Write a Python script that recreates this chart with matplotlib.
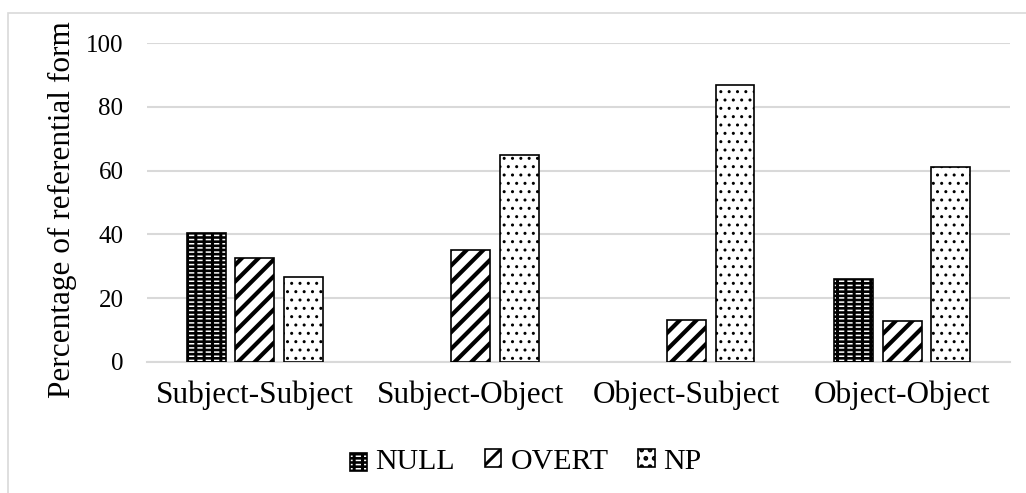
import matplotlib
matplotlib.use("Agg")
import matplotlib.pyplot as plt
import numpy as np
from matplotlib.patches import Rectangle

categories = ["Subject-Subject", "Subject-Object", "Object-Subject", "Object-Object"]
null_vals = [40.5, 0, 0, 26]
overt_vals = [32.7, 35.2, 13.3, 13]
np_vals = [26.8, 64.8, 86.7, 61]
series_names = ["NULL", "OVERT", "NP"]
yticks = [0, 20, 40, 60, 80, 100]

plt.rcParams['font.family'] = ['Liberation Serif', 'DejaVu Serif']

fig = plt.figure(figsize=(10.26, 4.93), dpi=100)
ax = fig.add_axes([147/1026, 1-362/493, (1010-147)/1026, (362-43)/493])

x = np.arange(len(categories))
w = 0.18
off = 0.225
lw = 1.2


def lws(vals):
    return [lw if v > 0 else 0 for v in vals]


# NULL: black with white dashes
plt.rcParams['hatch.linewidth'] = 1.1
ax.bar(x - off, null_vals, w, color='black', edgecolor='white', hatch='----', linewidth=0, zorder=3)
plt.rcParams['hatch.linewidth'] = 2.2
ax.bar(x - off, null_vals, w, facecolor='none', edgecolor='black', hatch='||', linewidth=lws(null_vals), zorder=4)
# OVERT: diagonal stripes
plt.rcParams['hatch.linewidth'] = 3.0
b2 = ax.bar(x, overt_vals, w, color='white', edgecolor='black', hatch='//', linewidth=lws(overt_vals), zorder=3)
# NP: dots
plt.rcParams['hatch.linewidth'] = 1.0
b3 = ax.bar(x + off, np_vals, w, color='white', edgecolor='black', hatch='..', linewidth=lws(np_vals), zorder=3)

ax.set_xlim(-0.5, 3.5)
ax.set_ylim(0, 100)
ax.set_yticks(yticks)
ax.set_xticks(x)
ax.set_xticklabels(categories, fontsize=22.5)
ax.tick_params(axis='y', labelsize=18, length=0, pad=17)
ax.tick_params(axis='x', length=0, pad=13)
ax.grid(axis='y', color='#d9d9d9', linewidth=1.5, zorder=0)
ax.set_axisbelow(True)
for s in ['top', 'right', 'left']:
    ax.spines[s].set_visible(False)
ax.spines['bottom'].set_color('#d9d9d9')
ax.spines['bottom'].set_linewidth(1.5)

fig.text(62/1026, 1-210/493, "Percentage of referential form", rotation=90,
         fontsize=22.5, ha='center', va='center')


class NullKey:
    pass


class NullHandler:
    def legend_artist(self, legend, orig_handle, fontsize, handlebox):
        x0, y0 = handlebox.xdescent, handlebox.ydescent
        wd, ht = handlebox.width, handlebox.height
        plt.rcParams['hatch.linewidth'] = 1.1
        r1 = Rectangle((x0, y0), wd, ht, facecolor='black', edgecolor='white', hatch='----',
                       linewidth=0, transform=handlebox.get_transform())
        plt.rcParams['hatch.linewidth'] = 2.2
        r2 = Rectangle((x0, y0), wd, ht, facecolor='none', edgecolor='black', hatch='||',
                       linewidth=lw, transform=handlebox.get_transform())
        handlebox.add_artist(r1)
        handlebox.add_artist(r2)
        return r1


plt.rcParams['hatch.linewidth'] = 3.0
leg = fig.legend([NullKey(), b2[0], b3[0]], series_names, loc='center',
                 bbox_to_anchor=(526/1026, 1-462/493),
                 ncol=3, frameon=False, fontsize=21.5, handlelength=0.55, handleheight=0.55,
                 handletextpad=0.3, columnspacing=1.0,
                 handler_map={NullKey: NullHandler()})

fig.patches.append(Rectangle((8/1026, -0.1), 1.2, 1.1 - 13/493, transform=fig.transFigure,
                             fill=False, edgecolor='#d9d9d9', linewidth=1.2))

fig.savefig("out.png", dpi=100)
